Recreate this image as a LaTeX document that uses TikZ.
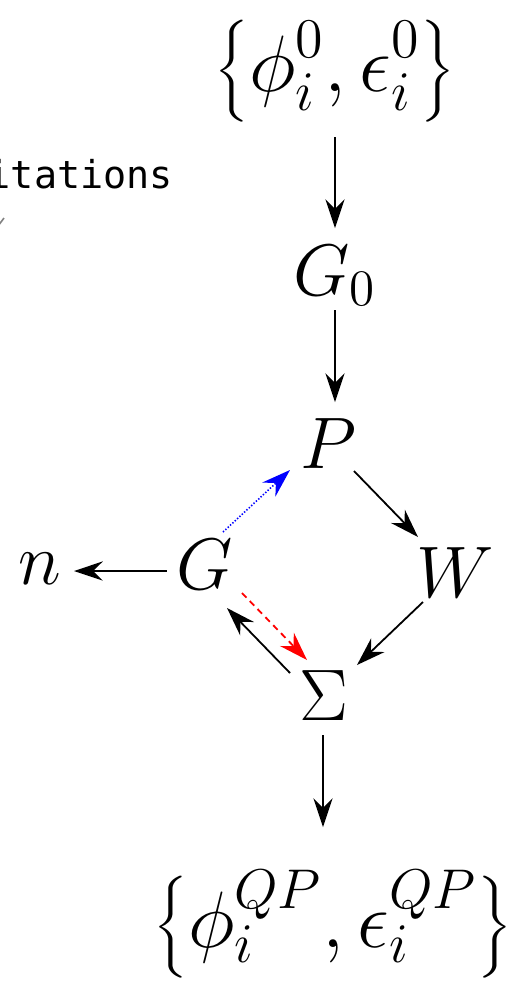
\RequirePackage{fix-cm}
\documentclass[tikz,border=0pt]{standalone}
\usepackage{graphicx}
\usepackage{fontspec}
\newfontfamily\codefont{DejaVu Sans Mono}
\usetikzlibrary{arrows.meta,calc}
\newcommand{\mylbrace}{\vcenter{\hbox{\scalebox{1.08}[0.85]{$\left\{\vcenter{\hbox{\rule{0pt}{32pt}}}\right.\kern-\nulldelimiterspace$}}}}
\newcommand{\myrbrace}{\vcenter{\hbox{\scalebox{1.08}[0.85]{$\kern-\nulldelimiterspace\left.\vcenter{\hbox{\rule{0pt}{32pt}}}\right\}$}}}}
\tikzset{
  mn/.style={font=\fontsize{18.25}{22}\selectfont, inner sep=0pt},
  setn/.style={font=\fontsize{20}{24}\selectfont, inner sep=0pt},
  tipA/.tip={Stealth[length=7.2pt,width=4.8pt,inset=2.4pt]},
  arr/.style={-tipA, line width=0.45pt, black},
  bluearr/.style={-tipA, line width=0.4pt, blue, dash pattern=on 0.35pt off 0.45pt},
  redarr/.style={-tipA, line width=0.45pt, red, dash pattern=on 1.6pt off 1.2pt},
}
\begin{document}
\begin{tikzpicture}[x=0.25pt,y=-0.25pt]
\useasboundingbox (0,0) rectangle (510,989);
% nodes
\node[setn] (top) at (335,71) {$\displaystyle\mylbrace\phi_i^0,\epsilon_i^0\myrbrace$};
\node[mn,anchor=base] (G0) at (335,295) {$G_0$};
\node[mn,anchor=base] (P) at (328,468) {$P$};
\node[mn,anchor=base] (W) at (455,597) {$W$};
\node[mn,anchor=base] (G) at (205,589) {$G$};
\node[mn,anchor=base] (n) at (40,584) {$n$};
\node[mn,anchor=base] (S) at (324,720) {$\Sigma$};
\node[setn] (bot) at (333,926) {$\displaystyle\mylbrace\phi_i^{QP},\epsilon_i^{QP}\myrbrace$};
\node[inner sep=0pt, anchor=base west, font=\codefont\fontsize{9.6}{11}\selectfont] (lbl) at (-13,188) {itations};
\coordinate (m1) at (-2,226);
\coordinate (m2) at (4,218);
\draw[gray, line width=0.4pt] (m1) -- (m2);
% connectors
\draw[arr] ($(top.center)+(0,66)$) -- ($(G0.base)+(0,-67)$);
\draw[arr] ($(G0.base)+(0,15)$) -- ($(P.base)+(7,-66)$);
\draw[arr] ($(P.base)+(26,3)$) -- ($(W.base)+(-37,-60)$);
\draw[arr] ($(W.base)+(-32,5)$) -- ($(S.base)+(33,-55)$);
\draw[arr] ($(S.base)+(-34,-47)$) -- ($(G.base)+(22,19)$);
\draw[redarr] ($(G.base)+(37,4)$) -- ($(S.base)+(-17,-60)$);
\draw[bluearr] ($(G.base)+(18,-57)$) -- ($(P.base)+(-38,2)$);
\draw[arr] ($(G.base)+(-38,-18)$) -- ($(n.base)+(34,-13)$);
\draw[arr] ($(S.base)+(-1,15)$) -- ($(bot.center)+(-10,-99)$);
\end{tikzpicture}
\end{document}
